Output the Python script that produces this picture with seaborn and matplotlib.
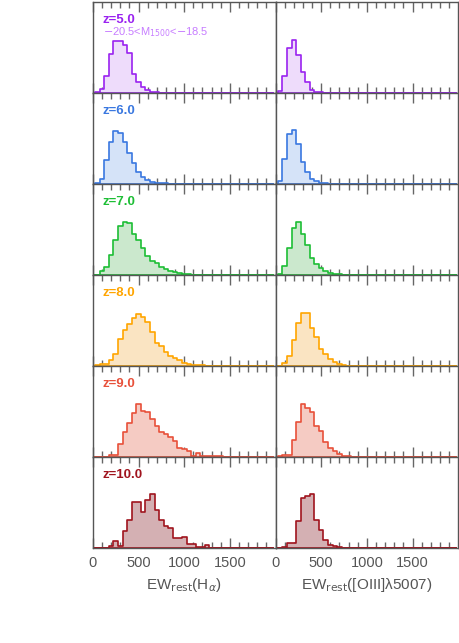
import matplotlib
matplotlib.use("Agg")
import matplotlib.pyplot as plt
import seaborn as sns
import numpy as np
import pandas as pd

# redshift labels and colours per row
redshifts = ["z=5.0", "z=6.0", "z=7.0", "z=8.0", "z=9.0", "z=10.0"]
line_colors = ["#9A22F0", "#3A78E0", "#1DBE35", "#FFA500", "#E8503A", "#A0141E"]
fill_colors = ["#EEDCFB", "#D5E3F8", "#CBE8CD", "#FAE4C2", "#F5CBC3", "#D4B0B3"]
mag_label = r"$-$20.5<M$_{\rm 1500}$<$-$18.5"

# histogram heights (relative counts), bins of width 50 centred on 0, 50, 100, ...
ha_z5 = [0, 0.5, 3.7, 17, 38.7, 52, 51.7, 48.3, 40.3, 19.3, 11, 6, 2.7, 1, 0.5, 0.3]
ha_z6 = [0, 0.5, 4.7, 24, 41.7, 53, 50.7, 41.7, 31, 20.7, 12, 7.3, 4, 2.3, 1, 1, 1, 0.3]
ha_z7 = [0, 0, 4, 8, 20, 34.7, 49, 53.3, 52.3, 41.3, 34.7, 27.3, 19, 14, 12.3, 8.3,
         5.7, 4, 2.7, 1.7, 1, 0.5, 0.3]
ha_z8 = [0, 0.5, 1.7, 1.7, 5.7, 11.7, 26.7, 35.7, 42.3, 48.3, 52.3, 49.3, 44.3, 34,
         23.3, 20, 14, 10, 7.7, 5.7, 3.3, 2.3, 1.3, 0.7, 0.4, 0.3]
ha_z9 = [0, 0, 0, 0.3, 2.3, 2.3, 13, 24.7, 33.7, 43.7, 53, 45.7, 44.7, 38, 31.3, 24.7,
         23, 20.3, 16.3, 9, 8, 5.7, 1.3, 3.7, 1, 0.4, 0.4, 0.4, 0.4, 0.3, 0.3]
ha_z10 = [0, 0, 0, 0, 2.3, 6.7, 2.3, 16.7, 28.3, 45.7, 45.7, 35.7, 48.3, 54, 38.3, 27.7,
          22.3, 20, 10, 10, 11, 4.3, 4.3, 0.7, 0.7, 3.3]

oiii_z5 = [0, 1.7, 17, 45, 52.7, 37.7, 20.7, 10.7, 3.3, 1.3, 0.7, 0.3]
oiii_z6 = [0, 3, 24.7, 49.7, 53.7, 39.7, 22.3, 12, 5.3, 2.7, 1, 0.7, 0.3]
oiii_z7 = [0, 0.7, 9, 27.3, 46.7, 53.3, 41.3, 30, 17.3, 11.3, 6.7, 4, 2, 1, 0.5, 0.3]
oiii_z8 = [0, 0, 3.3, 10, 25.7, 43.3, 52.7, 52.7, 38.3, 29, 16.7, 12.3, 6.7, 4.3, 2, 0.7, 0.3]
oiii_z9 = [0, 0.5, 1.7, 2, 17, 35.3, 53, 49, 44.7, 31.3, 26.3, 14.7, 9, 6.3, 3, 1, 0.5]
oiii_z10 = [0, 0, 1, 5, 5, 26.7, 50, 51.7, 54, 28.3, 18.3, 8.3, 3.3, 1.7, 0.7, 0.3]

ha_all = [ha_z5, ha_z6, ha_z7, ha_z8, ha_z9, ha_z10]
oiii_all = [oiii_z5, oiii_z6, oiii_z7, oiii_z8, oiii_z9, oiii_z10]

bin_width = 50
n_bins = 40
centers = np.arange(n_bins) * bin_width

xlabels = [r"EW$_{\rm rest}$(H$_\alpha$)", r"EW$_{\rm rest}$([OIII]λ5007)"]

sns.set_style("white")
plt.rcParams["font.family"] = ["Liberation Sans", "DejaVu Sans"]
gray = "#555555"

fig, axes = plt.subplots(6, 2, figsize=(4.6, 6.43), dpi=100)
fig.subplots_adjust(left=0.202, right=0.996, top=0.997, bottom=0.148,
                    hspace=0, wspace=0)

for row in range(6):
    for col in range(2):
        ax = axes[row, col]
        vals = (ha_all if col == 0 else oiii_all)[row]
        w = np.zeros(n_bins)
        w[:len(vals)] = vals
        df = pd.DataFrame({"ew": centers, "w": w})
        c = line_colors[row]
        sns.histplot(data=df, x="ew", weights="w", binwidth=bin_width,
                     binrange=(-bin_width / 2, n_bins * bin_width - bin_width / 2),
                     element="step", fill=True, color=c,
                     facecolor=fill_colors[row], linewidth=1.2, ax=ax)
        ax.set_xlim(0, 2000)
        ax.set_ylim(0, 91)
        ax.set_yticks([])
        ax.set_ylabel("")
        ax.set_xlabel("")
        ax.set_xticks([0, 500, 1000, 1500])
        ax.set_xticks(np.arange(100, 2000, 100), minor=True)
        ax.tick_params(axis="x", which="major", direction="in", top=True, bottom=True,
                       length=7, width=1, color="#666666", labelsize=10.5,
                       labelcolor=gray, pad=6)
        ax.tick_params(axis="x", which="minor", direction="in", top=True, bottom=True,
                       length=4, width=1, color="#666666")
        for s in ax.spines.values():
            s.set_color(gray)
            s.set_linewidth(1)
        if row < 5:
            ax.set_xticklabels([])
        else:
            ax.set_xlabel(xlabels[col], fontsize=11, color=gray, labelpad=4)
        if col == 0:
            ax.text(0.055, 0.80, redshifts[row], transform=ax.transAxes,
                    color=c, fontsize=9.5, fontweight="bold", va="center")
            if row == 0:
                ax.text(0.055, 0.67, mag_label, transform=ax.transAxes,
                        color="#C77DFF", fontsize=8, va="center")

fig.savefig("out.png", dpi=100)
